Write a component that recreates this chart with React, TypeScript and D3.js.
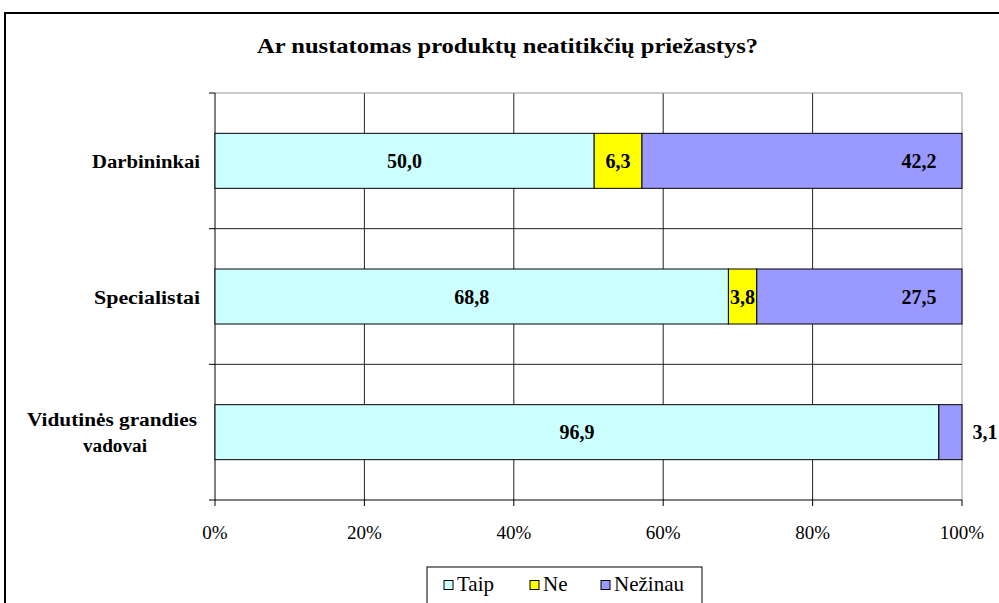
import React from "react";
import * as d3 from "d3";

const categories = ["Darbininkai", "Specialistai", "Vidutinės grandies vadovai"];
const seriesNames = ["Taip", "Ne", "Nežinau"];
const taip = [50.0, 68.8, 96.9];
const ne = [6.3, 3.8, 0];
const nezinau = [42.2, 27.5, 3.1];
const xTicks = [0, 0.2, 0.4, 0.6, 0.8, 1.0];
const title = "Ar nustatomas produktų neatitikčių priežastys?";

const colors = ["#CCFFFF", "#FFFF00", "#9999FF"];
const FONT = "Liberation Serif, Times New Roman, Tinos, serif";

export default function App() {
  const W = 999, H = 603;
  const left = 215, right = 962, top = 93, bottom = 500;

  const x = d3.scaleLinear().domain([0, 1]).range([left, right]);
  const y = d3.scaleBand<string>().domain(categories).range([top, bottom]).paddingInner(0).paddingOuter(0);
  const barH = 55;

  const rows = categories.map((c, i) => ({ cat: c, Taip: taip[i], Ne: ne[i], "Nežinau": nezinau[i] }));
  const stack = d3.stack<any>().keys(seriesNames).offset(d3.stackOffsetExpand);
  const series = stack(rows);

  const sepYs = [top, ...categories.map((c) => (y(c) as number) + y.bandwidth())];
  const catWidths = [108, 106];

  return (
    <svg width={W} height={H} style={{ position: "absolute", left: 0, top: 0, background: "#fff", fontFamily: FONT }}>
      <rect x={5} y={13} width={1100} height={700} fill="#fff" stroke="#000" strokeWidth={2} />
      <text x={257} y={53} fontSize={22} fontWeight="bold" textLength={501} lengthAdjust="spacingAndGlyphs">
        {title}
      </text>

      {/* vertical gridlines */}
      {xTicks.slice(1).map((t) => (
        <line key={"g" + t} x1={x(t)} x2={x(t)} y1={top} y2={bottom} stroke={t === 1 ? "#999" : "#222"} strokeWidth={1} />
      ))}
      {/* top border */}
      <line x1={left} x2={right} y1={top} y2={top} stroke="#999" />
      {/* category separators */}
      {sepYs.slice(1, -1).map((yy, i) => (
        <line key={"s" + i} x1={left} x2={right} y1={yy} y2={yy} stroke="#222" />
      ))}
      {/* y axis */}
      <line x1={left} x2={left} y1={top} y2={bottom} stroke="#000" />
      {sepYs.map((yy, i) => (
        <line key={"yt" + i} x1={left - 6} x2={left} y1={yy} y2={yy} stroke="#000" />
      ))}
      {/* x axis */}
      <line x1={left} x2={right} y1={bottom} y2={bottom} stroke="#000" />
      {xTicks.map((t) => (
        <g key={"xt" + t}>
          <line x1={x(t)} x2={x(t)} y1={bottom} y2={bottom + 6} stroke="#000" />
          <text x={x(t)} y={539} textAnchor="middle" fontSize={19}>
            {d3.format(".0%")(t)}
          </text>
        </g>
      ))}

      {/* bars */}
      {series.map((s, si) =>
        s.map((d, ci) => {
          const cat = categories[ci];
          const cy = (y(cat) as number) + y.bandwidth() / 2;
          const x0 = x(d[0]), x1 = x(d[1]);
          if (x1 - x0 <= 0.01) return null;
          return (
            <rect key={si + "-" + ci} x={x0} y={cy - barH / 2} width={x1 - x0} height={barH}
              fill={colors[si]} stroke="#000" strokeWidth={1} />
          );
        })
      )}
      {/* labels */}
      {series.map((s, si) =>
        s.map((d, ci) => {
          const cat = categories[ci];
          const cy = (y(cat) as number) + y.bandwidth() / 2;
          const raw = [taip, ne, nezinau][si][ci];
          if (!raw) return null;
          const x0 = x(d[0]), x1 = x(d[1]);
          let lx = (x0 + x1) / 2;
          if (si === 2) {
            if (x1 - x0 < 40) lx = x1 + 23;
            else lx = x1 - 43;
          }
          return (
            <text key={"l" + si + "-" + ci} x={lx} y={cy + 7} textAnchor="middle" fontSize={20} fontWeight="bold">
              {d3.format(".1f")(raw).replace(".", ",")}
            </text>
          );
        })
      )}

      {/* category labels */}
      {categories.map((c, i) => {
        const cy = (y(c) as number) + y.bandwidth() / 2;
        if (i === 2) {
          return (
            <g key={c}>
              <text x={112} y={cy - 6} textAnchor="middle" fontSize={18} fontWeight="bold" textLength={170} lengthAdjust="spacingAndGlyphs">
                Vidutinės grandies
              </text>
              <text x={115} y={cy + 20} textAnchor="middle" fontSize={18} fontWeight="bold" textLength={64} lengthAdjust="spacingAndGlyphs">
                vadovai
              </text>
            </g>
          );
        }
        return (
          <text key={c} x={200} y={cy + 7} textAnchor="end" fontSize={18} fontWeight="bold" textLength={catWidths[i]} lengthAdjust="spacingAndGlyphs">
            {c}
          </text>
        );
      })}

      {/* legend */}
      <rect x={427} y={567} width={275} height={40} fill="#fff" stroke="#000" strokeWidth={1} />
      {seriesNames.map((n, i) => {
        const lxs = [444, 530, 601];
        return (
          <g key={n}>
            <rect x={lxs[i]} y={580.5} width={9} height={9} fill={colors[i]} stroke="#000" strokeWidth={1} />
            <text x={lxs[i] + 13} y={591} fontSize={21}>{n}</text>
          </g>
        );
      })}
    </svg>
  );
}
